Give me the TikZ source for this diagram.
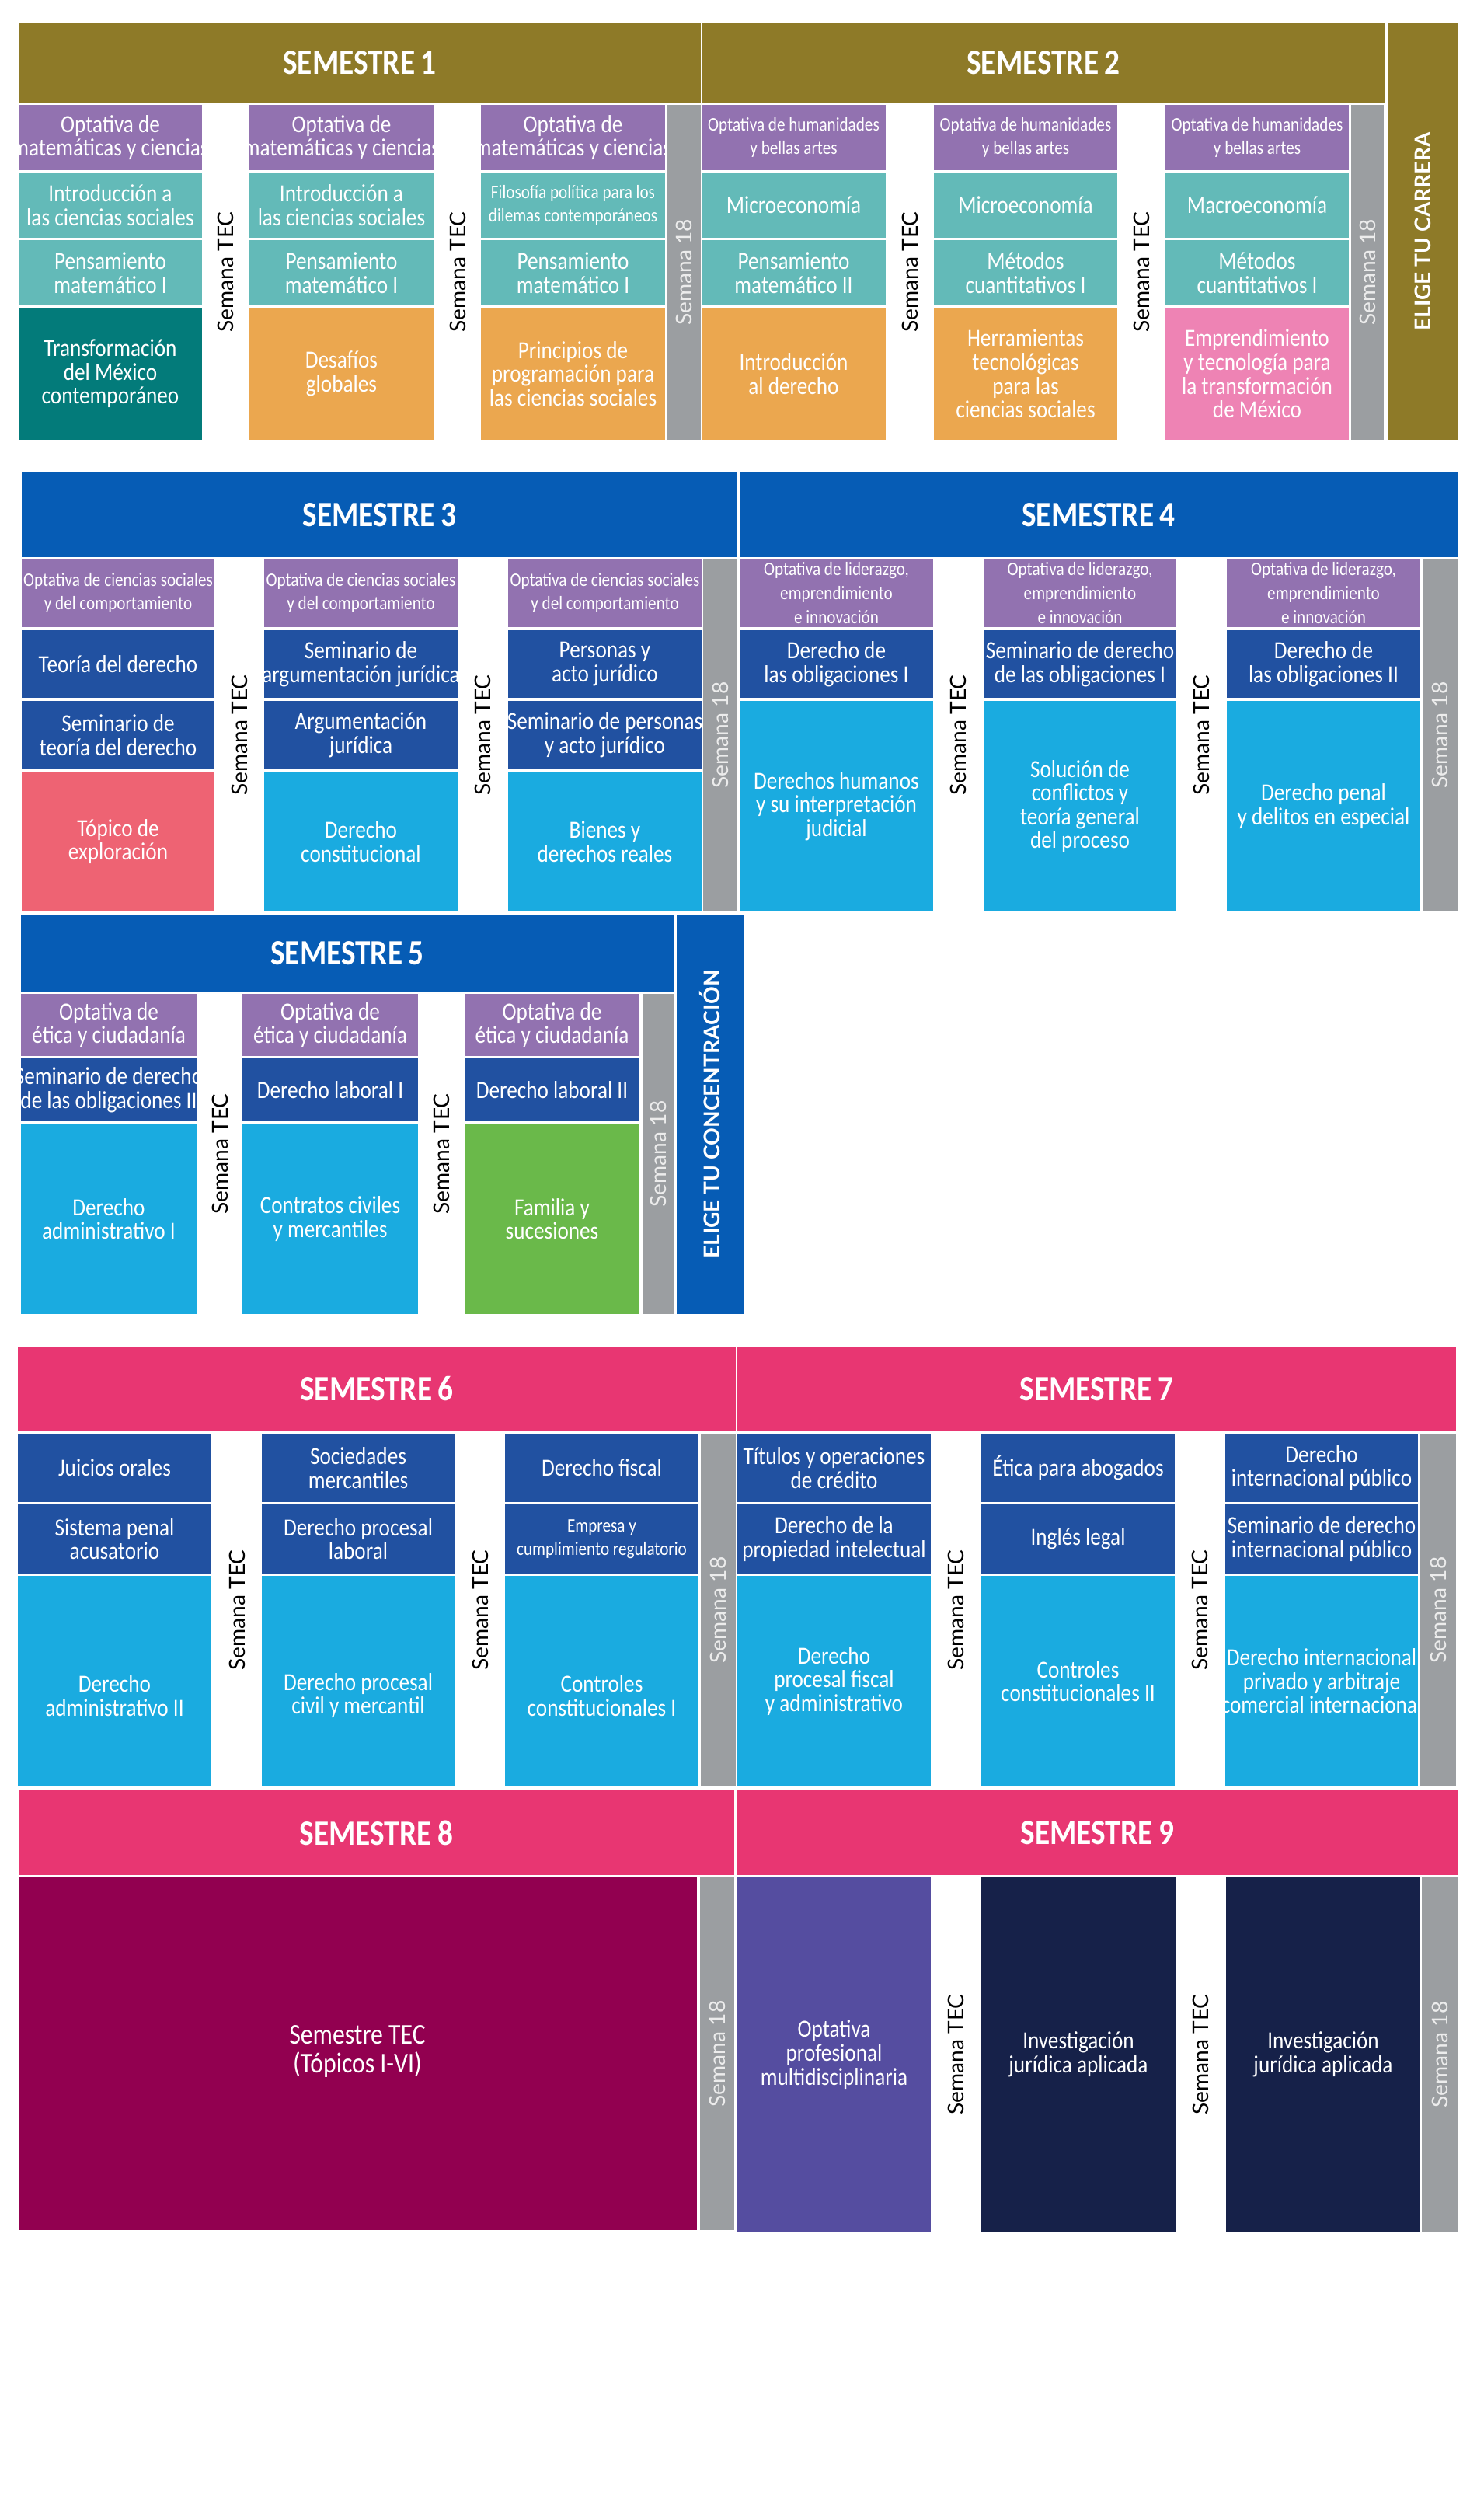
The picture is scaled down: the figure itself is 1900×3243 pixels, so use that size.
\documentclass[tikz,border=0pt]{standalone}
\usepackage{fontspec}
\setmainfont{Carlito}[FakeStretch=0.86]
\newfontfamily\lato{Lato}
\definecolor{olive}{HTML}{8E7A28}
\definecolor{purp}{HTML}{9272B0}
\definecolor{teal}{HTML}{63BAB8}
\definecolor{dteal}{HTML}{037B7A}
\definecolor{orng}{HTML}{EBA74F}
\definecolor{pnk}{HTML}{EE83B4}
\definecolor{gry}{HTML}{9B9EA1}
\definecolor{bhead}{HTML}{065CB5}
\definecolor{dblue}{HTML}{2151A1}
\definecolor{lblue}{HTML}{1AABE0}
\definecolor{coral}{HTML}{EE6373}
\definecolor{grn}{HTML}{6AB94A}
\definecolor{mag}{HTML}{E83672}
\definecolor{wine}{HTML}{920050}
\definecolor{vio}{HTML}{554DA0}
\definecolor{navy}{HTML}{162149}
\newcommand\sm{\fontsize{7}{7.2}\selectfont}
\newcommand\cell[7]{\fill[#6] (#2,#3) rectangle (#4,#5); \node[txt] (#1) at ({(#2+#4)/2},{(#3+#5)/2}) {#7};}
\newcommand\hd[6]{\fill[#6] (#2,#3) rectangle (#4,#5); \node[hdtxt] (#1) at ({(#2+#4)/2},{(#3+#5)/2}) {SEMESTRE\,#1};}
\newcommand\sdh[5]{\fill[gry] (#2,#3) rectangle (#4,#5); \node[s18] (#1) at ({(#2+#4)/2},{(#3+#5)/2}) {Semana 18};}
\begin{document}
\begin{tikzpicture}[x=0.01cm,y=-0.01cm,
  txt/.style={text=white,align=center,font=\fontsize{9}{8.7}\selectfont,inner sep=0pt},
  hdtxt/.style={text=white,font=\fontsize{13}{13}\selectfont\bfseries,inner sep=0pt},
  s18/.style={rotate=90,text=white!85!gray,font=\lato\fontsize{8}{8}\selectfont,inner sep=0pt},
  stec/.style={rotate=90,text=black,font=\lato\fontsize{8}{8}\selectfont,inner sep=0pt},
  elige/.style={rotate=90,text=white,font=\lato\bfseries\fontsize{8}{8}\selectfont,inner sep=0pt}]
\fill[white] (0,0) rectangle (1900,3243);
% ---- Semester 1
\hd{1}{24}{29}{902}{132}{olive}
\cell{a11}{24}{135}{260}{219}{purp}{Optativa de\\matemáticas y ciencias}
\cell{a12}{24}{222}{260}{306}{teal}{Introducción a\\las ciencias sociales}
\cell{a13}{24}{309}{260}{393}{teal}{Pensamiento\\matemático I}
\cell{a14}{24}{396}{260}{566}{dteal}{Transformación\\del México\\contemporáneo}
\cell{a21}{321}{135}{558}{219}{purp}{Optativa de\\matemáticas y ciencias}
\cell{a22}{321}{222}{558}{306}{teal}{Introducción a\\las ciencias sociales}
\cell{a23}{321}{309}{558}{393}{teal}{Pensamiento\\matemático I}
\cell{a24}{321}{396}{558}{566}{orng}{Desafíos\\globales}
\cell{a31}{619}{135}{856}{219}{purp}{Optativa de\\matemáticas y ciencias}
\cell{a32}{619}{222}{856}{306}{teal}{\sm Filosofía política para los\\\sm dilemas contemporáneos}
\cell{a33}{619}{309}{856}{393}{teal}{Pensamiento\\matemático I}
\cell{a34}{619}{396}{856}{566}{orng}{Principios de\\programación para\\las ciencias sociales}
\node[stec] (t1a) at (290,350) {Semana TEC};
\node[stec] (t1b) at (589,350) {Semana TEC};
\sdh{s1}{859}{135}{902}{566}
% ---- Semester 2
\hd{2}{904}{29}{1782}{132}{olive}
\cell{b11}{903}{135}{1140}{219}{purp}{\sm Optativa de humanidades\\\sm y bellas artes}
\cell{b12}{903}{222}{1140}{306}{teal}{Microeconomía}
\cell{b13}{903}{309}{1140}{393}{teal}{Pensamiento\\matemático II}
\cell{b14}{903}{396}{1140}{566}{orng}{Introducción\\al derecho}
\cell{b21}{1202}{135}{1438}{219}{purp}{\sm Optativa de humanidades\\\sm y bellas artes}
\cell{b22}{1202}{222}{1438}{306}{teal}{Microeconomía}
\cell{b23}{1202}{309}{1438}{393}{teal}{Métodos\\cuantitativos I}
\cell{b24}{1202}{396}{1438}{566}{orng}{Herramientas\\tecnológicas\\para las\\ciencias sociales}
\cell{b31}{1500}{135}{1736}{219}{purp}{\sm Optativa de humanidades\\\sm y bellas artes}
\cell{b32}{1500}{222}{1736}{306}{teal}{Macroeconomía}
\cell{b33}{1500}{309}{1736}{393}{teal}{Métodos\\cuantitativos I}
\cell{b34}{1500}{396}{1736}{566}{pnk}{Emprendimiento\\y tecnología para\\la transformación\\de México}
\node[stec] (t2a) at (1171,350) {Semana TEC};
\node[stec] (t2b) at (1469,350) {Semana TEC};
\sdh{s2}{1739}{135}{1781}{566}
\fill[olive] (1786,29) rectangle (1877,566);
\node[elige] (e1) at (1831,298) {ELIGE TU CARRERA};
% ---- Semester 3
\hd{3}{28}{608}{949}{717}{bhead}
\cell{c11}{28}{719}{276}{807}{purp}{\sm Optativa de ciencias sociales\\\sm y del comportamiento}
\cell{c12}{28}{811}{276}{898}{dblue}{Teoría del derecho}
\cell{c13}{28}{902}{276}{990}{dblue}{Seminario de\\teoría del derecho}
\cell{c14}{28}{993}{276}{1173}{coral}{Tópico de\\exploración}
\cell{c21}{340}{719}{589}{807}{purp}{\sm Optativa de ciencias sociales\\\sm y del comportamiento}
\cell{c22}{340}{811}{589}{898}{dblue}{Seminario de\\argumentación jurídica}
\cell{c23}{340}{902}{589}{990}{dblue}{Argumentación\\jurídica}
\cell{c24}{340}{993}{589}{1173}{lblue}{Derecho\\constitucional}
\cell{c31}{654}{719}{903}{807}{purp}{\sm Optativa de ciencias sociales\\\sm y del comportamiento}
\cell{c32}{654}{811}{903}{898}{dblue}{Personas y\\acto jurídico}
\cell{c33}{654}{902}{903}{990}{dblue}{Seminario de personas\\y acto jurídico}
\cell{c34}{654}{993}{903}{1173}{lblue}{Bienes y\\derechos reales}
\node[stec] (t3a) at (308,946) {Semana TEC};
\node[stec] (t3b) at (621,946) {Semana TEC};
\sdh{s3}{905}{719}{949}{1173}
% ---- Semester 4
\hd{4}{952}{608}{1876}{717}{bhead}
\cell{d11}{952}{719}{1201}{807}{purp}{\sm Optativa de liderazgo,\\\sm emprendimiento\\\sm e innovación}
\cell{d12}{952}{811}{1201}{898}{dblue}{Derecho de\\las obligaciones I}
\cell{d13}{952}{902}{1201}{1173}{lblue}{Derechos humanos\\y su interpretación\\judicial}
\cell{d21}{1266}{719}{1514}{807}{purp}{\sm Optativa de liderazgo,\\\sm emprendimiento\\\sm e innovación}
\cell{d22}{1266}{811}{1514}{898}{dblue}{Seminario de derecho\\de las obligaciones I}
\cell{d23}{1266}{902}{1514}{1173}{lblue}{Solución de\\conflictos y\\teoría general\\del proceso}
\cell{d31}{1579}{719}{1828}{807}{purp}{\sm Optativa de liderazgo,\\\sm emprendimiento\\\sm e innovación}
\cell{d32}{1579}{811}{1828}{898}{dblue}{Derecho de\\las obligaciones II}
\cell{d33}{1579}{902}{1828}{1173}{lblue}{Derecho penal\\y delitos en especial}
\node[stec] (t4a) at (1233,946) {Semana TEC};
\node[stec] (t4b) at (1546,946) {Semana TEC};
\sdh{s4}{1831}{719}{1876}{1173}
% ---- Semester 5
\hd{5}{27}{1177}{867}{1276}{bhead}
\cell{f11}{27}{1279}{253}{1359}{purp}{Optativa de\\ética y ciudadanía}
\cell{f12}{27}{1362}{253}{1443}{dblue}{Seminario de derecho\\de las obligaciones II}
\cell{f13}{27}{1446}{253}{1691}{lblue}{Derecho\\administrativo I}
\cell{f21}{312}{1279}{538}{1359}{purp}{Optativa de\\ética y ciudadanía}
\cell{f22}{312}{1362}{538}{1443}{dblue}{Derecho laboral I}
\cell{f23}{312}{1446}{538}{1691}{lblue}{Contratos civiles\\y mercantiles}
\cell{f31}{598}{1279}{823}{1359}{purp}{Optativa de\\ética y ciudadanía}
\cell{f32}{598}{1362}{823}{1443}{dblue}{Derecho laboral II}
\cell{f33}{598}{1446}{823}{1691}{grn}{Familia y\\sucesiones}
\node[stec] (t5a) at (283,1485) {Semana TEC};
\node[stec] (t5b) at (568,1485) {Semana TEC};
\sdh{s5}{827}{1279}{867}{1691}
\fill[bhead] (871,1177) rectangle (957,1691);
\node[elige] (e2) at (914,1434) {ELIGE TU CONCENTRACIÓN};
% ---- Semester 6
\hd{6}{23}{1733}{947}{1842}{mag}
\cell{g11}{23}{1845}{272}{1933}{dblue}{Juicios orales}
\cell{g12}{23}{1936}{272}{2025}{dblue}{Sistema penal\\acusatorio}
\cell{g13}{23}{2028}{272}{2299}{lblue}{\\[8pt]Derecho\\administrativo II}
\cell{g21}{337}{1845}{585}{1933}{dblue}{Sociedades\\mercantiles}
\cell{g22}{337}{1936}{585}{2025}{dblue}{Derecho procesal\\laboral}
\cell{g23}{337}{2028}{585}{2299}{lblue}{\\[8pt]Derecho procesal\\civil y mercantil}
\cell{g31}{650}{1845}{899}{1933}{dblue}{Derecho fiscal}
\cell{g32}{650}{1936}{899}{2025}{dblue}{\sm Empresa y\\\sm cumplimiento regulatorio}
\cell{g33}{650}{2028}{899}{2299}{lblue}{\\[8pt]Controles\\constitucionales I}
\node[stec] (t6a) at (305,2072) {Semana TEC};
\node[stec] (t6b) at (618,2072) {Semana TEC};
\sdh{s6}{902}{1845}{947}{2299}
% ---- Semester 7
\hd{7}{949}{1733}{1874}{1842}{mag}
\cell{h11}{949}{1845}{1198}{1933}{dblue}{Títulos y operaciones\\de crédito}
\cell{h12}{949}{1936}{1198}{2025}{dblue}{Derecho de la\\propiedad intelectual}
\cell{h13}{949}{2028}{1198}{2299}{lblue}{Derecho\\procesal fiscal\\y administrativo}
\cell{h21}{1263}{1845}{1512}{1933}{dblue}{Ética para abogados}
\cell{h22}{1263}{1936}{1512}{2025}{dblue}{Inglés legal}
\cell{h23}{1263}{2028}{1512}{2299}{lblue}{Controles\\constitucionales II}
\cell{h31}{1577}{1845}{1825}{1933}{dblue}{Derecho\\internacional público}
\cell{h32}{1577}{1936}{1825}{2025}{dblue}{Seminario de derecho\\internacional público}
\cell{h33}{1577}{2028}{1825}{2299}{lblue}{Derecho internacional\\privado y arbitraje\\comercial internacional}
\node[stec] (t7a) at (1230,2072) {Semana TEC};
\node[stec] (t7b) at (1544,2072) {Semana TEC};
\sdh{s7}{1828}{1845}{1874}{2299}
% ---- Semester 8
\hd{8}{24}{2304}{945}{2413}{mag}
\fill[wine] (24,2416) rectangle (897,2870);
\node[txt,font=\fontsize{10.5}{10.5}\selectfont] (i1) at (460,2640) {Semestre TEC\\(Tópicos I-VI)};
\sdh{s8}{901}{2416}{945}{2870}
% ---- Semester 9
\hd{9}{949}{2304}{1876}{2413}{mag}
\cell{j1}{949}{2416}{1198}{2872}{vio}{Optativa\\profesional\\multidisciplinaria}
\cell{j2}{1263}{2416}{1513}{2872}{navy}{Investigación\\jurídica aplicada}
\cell{j3}{1578}{2416}{1828}{2872}{navy}{Investigación\\jurídica aplicada}
\node[stec] (t9a) at (1230,2644) {Semana TEC};
\node[stec] (t9b) at (1545,2644) {Semana TEC};
\sdh{s9}{1830}{2416}{1876}{2872}
\end{tikzpicture}
\end{document}
